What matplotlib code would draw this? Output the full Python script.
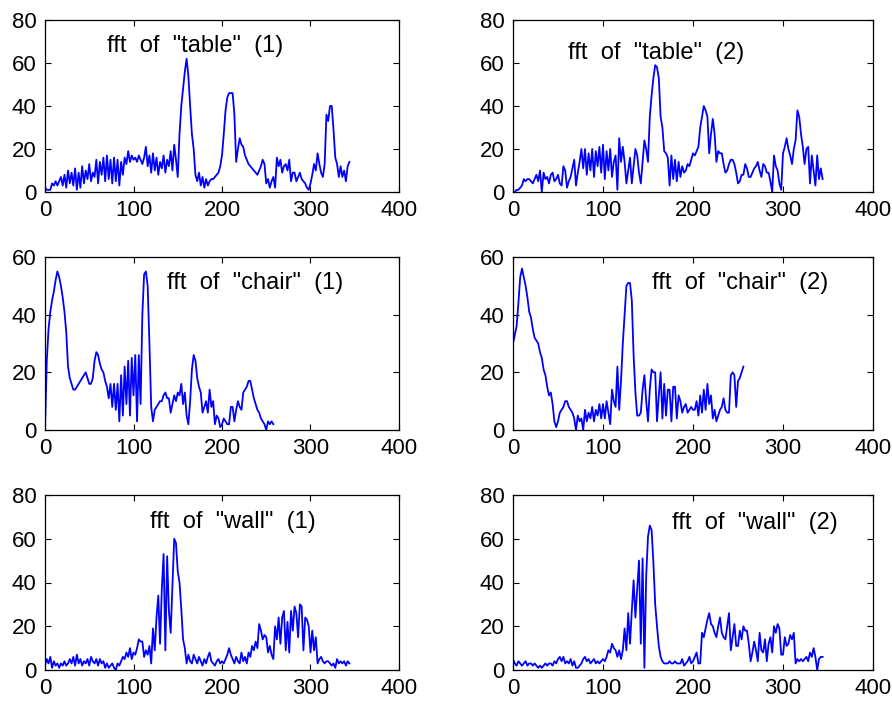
import numpy as np
import matplotlib
matplotlib.use("Agg")
import matplotlib.pyplot as plt

plt.rcParams["font.family"] = ["Liberation Sans", "DejaVu Sans"]

# spectrum magnitudes, one value every 2 bins
BIN_STEP = 2

table_1 = [
    2, 1, 1, 1, 4, 3, 5, 3, 5, 7,
    3, 8, 2, 10, 4, 9, 3, 11, 1, 9,
    2, 12, 4, 10, 6, 13, 5, 9, 7, 15,
    4, 14, 8, 16, 5, 17, 6, 15, 4, 16,
    5, 15, 3, 14, 8, 16, 13, 19, 14, 17,
    15, 16, 14, 17, 15, 13, 16, 21, 12, 17,
    9, 18, 10, 16, 8, 14, 11, 17, 9, 15,
    12, 19, 10, 22, 15, 7, 27, 40, 48, 56,
    62, 54, 40, 27, 20, 8, 5, 9, 3, 7,
    2, 6, 3, 5, 6, 6, 7, 8, 9, 12,
    17, 27, 38, 44, 46, 46, 46, 36, 14, 20,
    25, 22, 21, 17, 15, 13, 12, 11, 10, 9,
    8, 10, 12, 15, 13, 4, 6, 2, 5, 7,
    2, 16, 12, 15, 9, 12, 13, 10, 15, 5,
    9, 9, 5, 7, 9, 6, 5, 4, 2, 1,
    4, 8, 13, 10, 18, 13, 9, 7, 13, 36,
    33, 40, 40, 29, 16, 13, 7, 12, 7, 10,
    5, 12, 14,
]

table_2 = [
    0, 0, 1, 1, 2, 3, 6, 5, 6, 6,
    5, 4, 6, 8, 5, 10, 0, 9, 6, 7,
    4, 8, 9, 5, 6, 8, 4, 3, 12, 10,
    2, 5, 7, 11, 15, 3, 9, 14, 20, 11,
    20, 8, 18, 10, 20, 7, 19, 12, 21, 9,
    22, 6, 19, 10, 20, 7, 14, 17, 1, 25,
    14, 21, 14, 4, 10, 16, 4, 12, 20, 17,
    9, 4, 14, 24, 20, 14, 35, 45, 53, 59,
    58, 53, 35, 30, 19, 18, 16, 3, 17, 6,
    15, 5, 14, 7, 12, 9, 10, 13, 12, 15,
    18, 17, 19, 21, 30, 35, 40, 38, 35, 18,
    27, 34, 27, 14, 19, 18, 18, 13, 9, 10,
    13, 15, 15, 13, 9, 4, 5, 8, 8, 13,
    11, 7, 7, 9, 11, 12, 14, 10, 7, 13,
    12, 9, 9, 5, 0, 17, 12, 10, 4, 1,
    18, 21, 25, 20, 17, 13, 20, 24, 38, 35,
    27, 21, 13, 20, 21, 4, 17, 10, 3, 17,
    6, 11, 6,
]

chair_1 = [
    0, 24, 35, 41, 45, 48, 52, 55, 53, 50,
    46, 41, 34, 22, 18, 16, 14, 14, 15, 16,
    17, 18, 19, 20, 18, 16, 16, 18, 24, 27,
    26, 23, 21, 20, 17, 15, 11, 16, 8, 16,
    7, 16, 3, 19, 5, 22, 9, 24, 5, 25,
    12, 26, 3, 26, 9, 40, 54, 55, 50, 30,
    8, 3, 7, 8, 9, 10, 10, 12, 13, 11,
    11, 6, 9, 12, 10, 13, 12, 16, 9, 13,
    5, 2, 10, 21, 26, 24, 18, 15, 13, 6,
    8, 10, 6, 14, 8, 10, 2, 5, 4, 1,
    2, 4, 3, 2, 2, 8, 8, 3, 7, 10,
    8, 7, 13, 14, 15, 17, 17, 14, 11, 9,
    7, 6, 4, 3, 2, 0, 3, 2, 3, 2,
]

chair_2 = [
    30, 33, 36, 44, 53, 56, 53, 50, 46, 41,
    39, 35, 32, 31, 30, 27, 25, 21, 19, 15,
    12, 13, 9, 3, 1, 3, 6, 7, 8, 10,
    10, 8, 7, 6, 4, 0, 5, 3, 4, 0,
    7, 3, 6, 4, 8, 3, 7, 5, 9, 4,
    9, 4, 10, 6, 2, 14, 10, 8, 22, 7,
    17, 30, 40, 50, 51, 51, 45, 26, 13, 5,
    5, 6, 14, 19, 10, 3, 14, 21, 20, 20,
    3, 12, 20, 4, 16, 5, 14, 14, 3, 15,
    15, 4, 12, 10, 6, 8, 9, 6, 7, 8,
    7, 7, 10, 5, 12, 6, 14, 7, 16, 9,
    12, 4, 7, 3, 5, 7, 8, 11, 7, 6,
    6, 19, 20, 19, 8, 17, 18, 20, 22,
]

wall_1 = [
    2, 5, 3, 6, 1, 4, 2, 3, 1, 3,
    2, 4, 2, 3, 5, 3, 6, 2, 7, 3,
    5, 2, 4, 3, 5, 2, 6, 4, 3, 5,
    2, 5, 3, 4, 1, 3, 1, 2, 3, 1,
    0, 3, 2, 4, 6, 5, 8, 6, 10, 5,
    8, 7, 10, 14, 13, 13, 6, 9, 7, 11,
    3, 19, 9, 24, 34, 12, 37, 53, 9, 52,
    27, 17, 38, 60, 58, 45, 40, 28, 14, 10,
    3, 7, 4, 3, 7, 5, 3, 6, 4, 2,
    5, 3, 6, 8, 4, 3, 2, 4, 5, 3,
    4, 3, 5, 7, 10, 7, 5, 3, 6, 4,
    3, 8, 4, 6, 3, 8, 6, 11, 9, 13,
    10, 21, 18, 14, 16, 15, 8, 11, 7, 5,
    20, 14, 24, 12, 24, 27, 9, 22, 8, 27,
    18, 29, 26, 15, 30, 29, 9, 24, 23, 20,
    8, 18, 9, 15, 3, 5, 6, 4, 3, 4,
    4, 3, 2, 3, 1, 5, 3, 4, 3, 4,
    2, 4, 3,
]

wall_2 = [
    5, 3, 2, 4, 3, 2, 3, 4, 2, 3,
    3, 2, 3, 2, 1, 2, 1, 2, 3, 2,
    3, 3, 2, 4, 3, 5, 6, 4, 6, 3,
    4, 3, 5, 2, 4, 1, 1, 2, 3, 5,
    6, 4, 5, 3, 4, 5, 3, 4, 3, 4,
    5, 4, 6, 9, 8, 12, 10, 9, 6, 9,
    5, 9, 19, 9, 26, 12, 27, 41, 24, 37,
    50, 12, 51, 1, 43, 61, 66, 64, 49, 30,
    20, 11, 6, 4, 3, 3, 3, 4, 3, 3,
    4, 3, 3, 3, 5, 2, 3, 4, 6, 3,
    4, 6, 8, 3, 3, 17, 15, 19, 23, 26,
    21, 20, 17, 15, 20, 24, 17, 15, 14, 20,
    26, 9, 15, 21, 11, 11, 18, 14, 20, 18,
    18, 12, 4, 8, 13, 9, 4, 17, 9, 8,
    14, 4, 12, 15, 8, 20, 17, 21, 19, 7,
    7, 15, 11, 12, 16, 14, 17, 3, 5, 4,
    5, 4, 5, 6, 4, 8, 6, 10, 6, 0,
    5, 6, 6,
]

titles = [
    'fft  of  "table"  (1)', 'fft  of  "table"  (2)',
    'fft  of  "chair"  (1)', 'fft  of  "chair"  (2)',
    'fft  of  "wall"  (1)', 'fft  of  "wall"  (2)',
]
series = [table_1, table_2, chair_1, chair_2, wall_1, wall_2]
y_tops = [80, 80, 60, 60, 80, 80]
# where each label sits, in data units (left edge, middle)
label_xy = [(70, 68), (61, 64.7), (138, 51), (154, 51), (119, 67.7), (177, 67.2)]

W, H = 892, 705
fig = plt.figure(figsize=(W / 100, H / 100), dpi=100)

# axes boxes in pixels: left, top, right, bottom
cols = [(45, 399), (513, 873)]
rows = [(20, 192), (257, 430), (495, 670)]

for i, (y, title, ytop, (tx, ty)) in enumerate(zip(series, titles, y_tops, label_xy)):
    l, r = cols[i % 2]
    t, b = rows[i // 2]
    ax = fig.add_axes([l / W, 1 - b / H, (r - l) / W, (b - t) / H])
    x = np.arange(len(y)) * BIN_STEP
    ax.plot(x, y, color="#0000ff", lw=1.3)
    ax.set_xlim(0, 400)
    ax.set_ylim(0, ytop)
    ax.set_xticks(range(0, 401, 100))
    ax.set_yticks(range(0, ytop + 1, 20))
    ax.tick_params(direction="in", top=True, right=True, length=4,
                   width=0.8, labelsize=16, pad=6)
    for s in ax.spines.values():
        s.set_linewidth(0.9)
    ax.text(tx, ty, title, fontsize=17, ha="left", va="center")

fig.savefig("out.png", dpi=100)
